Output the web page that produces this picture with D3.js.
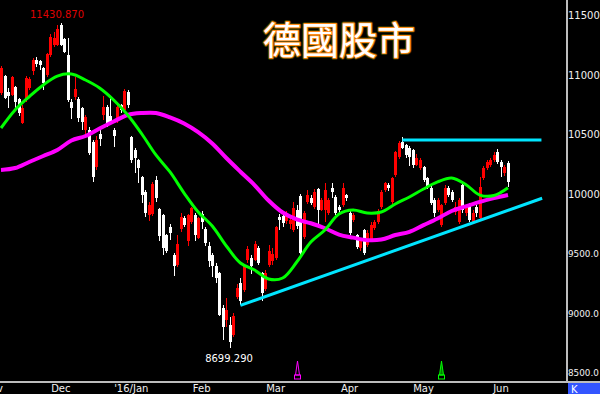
<!DOCTYPE html>
<html><head><meta charset="utf-8">
<script src="https://cdn.jsdelivr.net/npm/d3@7"></script>
<style>html,body{margin:0;padding:0;background:#000;overflow:hidden}</style>
</head><body><svg id="c" width="600" height="394"></svg>
<script>
// ---- data ----
const holidays = ["2015-12-24","2015-12-25","2015-12-31","2016-01-01","2016-03-25","2016-03-28"];
const open = [10845,10988,10850,10830,10895,10794,10592,10786,10890,11030,11120,11110,11055,10996,11164,11248,11248,11416,11300,11164,
10770,10810,10794,10718,10534,10534,10433,10223,10500,10660,10727,10650,10530,10610,10744,10702,10853,10475,10366,10282,
10140,10012,9820,9830,10110,9870,9819,9650,9720,9480,9400,9700,9794,9600,9760,9819,9630,9830,9700,9560,
9480,9390,9330,9040,8937,8895,8811,9130,9250,9190,9441,9460,9440,9540,9330,9200,9400,9430,9460,9800,
9810,9770,9740,9693,9860,9980,9635,9928,9962,9887,10040,9861,9860,9836,10046,9970,9886,9903,9987,9836,
9777,9651,9542,9693,9567,9609,9710,9760,9887,10029,10071,9928,10156,10307,10433,10408,10382,10366,10240,10214,
10223,10130,10046,9945,9861,9735,9920,10046,10013,9845,9760,10071,9836,9903,9760,9886,9794,10130,10214,10240,
10282,10350,10265,10172,10256];
const high = [11070,11000,10885,10990,10900,10800,10740,10990,10980,11140,11150,11125,11060,11180,11340,11357,11416,11430.87,11310,11307,
10790,10980,10810,10730,10660,10560,10450,10480,10540,10820,10740,10810,10550,10740,10750,10880,10870,10480,10380,10290,
10150,10030,9930,10100,10150,9880,9830,9660,9740,9500,9650,9840,9810,9830,9890,9840,9800,9850,9720,9590,
9500,9420,9340,9060,9120,8960,9000,9240,9290,9400,9560,9480,9600,9560,9340,9360,9570,9540,9730,9830,
9830,9850,9800,9930,9900,9995,9850,10030,9990,10040,10050,9960,10090,9960,10090,9985,9900,10088,10000,9850,
9840,9660,9630,9700,9690,9760,9780,9870,10030,10100,10090,10140,10360,10440,10474,10420,10400,10375,10330,10300,
10235,10140,10060,9960,9960,9915,10070,10060,10030,9930,9960,10090,9900,9920,9860,9900,10140,10230,10280,10300,
10345,10370,10280,10240,10276];
const low = [10830,10790,10720,10820,10700,10650,10580,10770,10870,11000,11060,11040,10870,10980,11150,11230,11240,11240,11180,10770,
10625,10786,10600,10534,10500,10320,10100,10200,10400,10620,10560,10590,10390,10590,10680,10690,10720,10260,10170,10090,
9920,9805,9770,9810,9930,9600,9480,9500,9610,9310,9380,9680,9720,9560,9740,9600,9620,9700,9560,9380,
9300,9250,8970,8770,8880,8699.29,8790,9110,9060,9170,9420,9320,9430,9400,9100,9180,9380,9400,9440,9690,
9720,9740,9700,9680,9700,9458,9620,9910,9900,9870,9740,9850,9760,9820,9960,9820,9840,9890,9940,9650,
9760,9530,9520,9480,9550,9590,9690,9740,9870,10010,10020,9910,10140,10290,10370,10300,10230,10215,10230,10200,
10100,10040,9900,9800,9845,9720,9905,9970,9930,9820,9740,9840,9810,9760,9750,9800,9770,10110,10200,10225,
10265,10250,10140,10150,10057];
const close = [11055,10803,10820,10975,10770,10677,10718,10971,10960,11120,11090,11080,10930,11172,11315,11307,11382,11248,11190,10786,
10720,10878,10634,10600,10640,10340,10139,10451,10460,10727,10590,10600,10480,10727,10700,10860,10743,10283,10300,10214,
9990,9836,9900,10080,9960,9640,9545,9521,9664,9391,9574,9800,9736,9819,9880,9650,9790,9757,9581,9434,
9393,9286,8979,8879,9021,8752,8967,9206,9100,9400,9530,9388,9573,9416,9167,9331,9513,9495,9717,9776,
9751,9824,9778,9880,9723,9498,9836,9987,9920,10013,9860,9945,10030,9945,10013,9836,9861,10046,9962,9668,
9819,9550,9609,9500,9668,9735,9760,9850,10013,10088,10046,10130,10349,10424,10382,10324,10306,10240,10300,10282,
10114,10055,9920,9836,9945,9903,10046,9987,9945,9886,9945,9861,9886,9777,9840,9836,10055,10214,10265,10282,
10324,10265,10223,10223,10097];
// moving averages read every 4th session
const maStep = 4;
const ma20 = [10550,10702,10813,10912,10987,11004,10954,10887,10786,10660,10500,10324,10181,10004,9845,9727,9559,9416,9357,9282,
9290,9424,9592,9693,9828,9861,9836,9845,9912,9971,10038,10097,10130,10076,9987,9983,10049];
const ma60 = [10198,10214,10265,10315,10366,10445,10483,10546,10605,10660,10676,10676,10639,10588,10515,10420,10298,10183,10071,9941,
9840,9782,9750,9708,9655,9629,9608,9613,9651,9678,9734,9790,9853,9892,9930,9961,9988];
const yTickValues = [11500,11000,10500,10000,9500,9000,8500];
const yTickLabels = ["11500","11000","10500","10000","9500.0","9000.0","8500.0"];
const monthLabels = ["Nov","Dec","'16/Jan","Feb","Mar","Apr","May","Jun"];
const titleText = "德國股市";
const highLabel = "11430.870";
const lowLabel = "8699.290";
// annotation lines: [session index, value]
const flatLine = [[114,10450],[153.5,10450]];
const trendLine = [[68,9060],[153.7,9960]];
const signalIdx = [84,125];

// ---- build ----
const fmt = d3.timeFormat("%Y-%m-%d");
const dates = d3.timeDay.range(new Date(2015,10,6), new Date(2016,5,4))
  .filter(d => d.getDay()%6 !== 0 && !holidays.includes(fmt(d)));
const n = dates.length;

const svg = d3.select("#c");
svg.append("rect").attr("width",600).attr("height",394).attr("fill","#000");

const x = d3.scaleLinear().domain([0, n-1]).range([1, 508]);
const y = d3.scaleLinear().domain([8500, 11500]).range([372, 15]);

svg.append("clipPath").attr("id","clip").append("rect").attr("x",0).attr("y",0).attr("width",565).attr("height",380);
const plot = svg.append("g").attr("clip-path","url(#clip)");

// title
const tg = svg.append("g").attr("font-family","'Noto Sans CJK TC','Noto Sans CJK SC',sans-serif")
  .attr("font-size",38).attr("text-anchor","middle");
[["#3a3a00",3.6],["#ff8c1a",1.8]].forEach(([c,w])=>{
  tg.append("text").attr("x",339).attr("y",37).attr("dominant-baseline","central")
    .attr("fill","none").attr("stroke",c).attr("stroke-width",w).attr("stroke-linejoin","round").text(titleText);
});
tg.append("text").attr("x",339).attr("y",37).attr("dominant-baseline","central")
  .attr("fill","#ffffff").text(titleText);

// candles
const data = dates.map((d,i)=>({i, o:open[i], h:high[i], l:low[i], c:close[i]}));
const col = d => d.c >= d.o ? "#ff0000" : "#ffffff";
const cg = plot.append("g").attr("shape-rendering","crispEdges");
cg.selectAll("line").data(data).join("line")
  .attr("x1", d=>Math.round(x(d.i))+0.5).attr("x2", d=>Math.round(x(d.i))+0.5)
  .attr("y1", d=>y(d.h)).attr("y2", d=>y(d.l)).attr("stroke", col).attr("stroke-width",1);
cg.selectAll("rect").data(data).join("rect")
  .attr("x", d=>Math.round(x(d.i))-1).attr("width",3)
  .attr("y", d=>y(Math.max(d.o,d.c)))
  .attr("height", d=>Math.max(1, Math.abs(y(d.o)-y(d.c))))
  .attr("fill", col);

// moving averages
const maLine = d3.line().x((v,k)=>x(k*maStep)).y(v=>y(v)).curve(d3.curveCatmullRom);
plot.append("path").attr("d", maLine(ma60)).attr("fill","none").attr("stroke","#ff00ff").attr("stroke-width",4);
plot.append("path").attr("d", maLine(ma20)).attr("fill","none").attr("stroke","#00ff00").attr("stroke-width",3);

// annotation lines
const segLine = d3.line().x(p=>x(p[0])).y(p=>y(p[1]));
plot.append("path").attr("d", segLine(flatLine)).attr("stroke","#00e5ff").attr("stroke-width",3).attr("fill","none");
plot.append("path").attr("d", segLine(trendLine)).attr("stroke","#00e5ff").attr("stroke-width",3).attr("fill","none");

// extreme labels
svg.append("text").attr("x",57).attr("y",18).attr("text-anchor","middle")
  .attr("font-family","'DejaVu Sans',sans-serif").attr("font-size",10).attr("fill","#e00000").text(highLabel);
svg.append("text").attr("x",229).attr("y",362).attr("text-anchor","middle")
  .attr("font-family","'DejaVu Sans',sans-serif").attr("font-size",10).attr("fill","#ffffff").text(lowLabel);

// signal markers
const sigColors = ["#ff00ff","#00ff00"], sigFill = ["none","#008000"];
signalIdx.forEach((si,k)=>{
  const cx = Math.round(x(si))+0.5;
  const gS = svg.append("g").attr("stroke",sigColors[k]).attr("stroke-width",1);
  gS.append("path").attr("d",`M${cx},361 L${cx+2},375 L${cx-2},375 Z`).attr("fill",sigFill[k]);
  gS.append("rect").attr("x",cx-3).attr("y",375).attr("width",6).attr("height",4).attr("fill","none");
});

// axes frame
svg.append("rect").attr("x",566).attr("y",0).attr("width",2).attr("height",382).attr("fill","#bdbdbd");
svg.append("rect").attr("x",0).attr("y",381).attr("width",600).attr("height",2).attr("fill","#bdbdbd");

// y labels (longer labels set a little smaller so they fit the margin)
svg.append("g").selectAll("text").data(yTickValues).join("text")
  .attr("x",568).attr("y",v=>y(v)+4)
  .attr("font-family","'DejaVu Sans',sans-serif").attr("fill","#f0f0f0")
  .attr("font-size",(v,k)=>yTickLabels[k].length > 5 ? 8.8 : 10)
  .text((v,k)=>yTickLabels[k]);

// month labels
const monthStarts = [];
dates.forEach((d,i)=>{ if(i===0 || d.getMonth()!==dates[i-1].getMonth()) monthStarts.push(i); });
const xg = svg.append("g").attr("font-family","'DejaVu Sans',sans-serif").attr("font-size",10).attr("fill","#f0f0f0");
xg.append("text").attr("x", x(0)+2).attr("y",392).attr("text-anchor","end").text(monthLabels[0]);
monthStarts.slice(1).forEach((i,k)=>{
  xg.append("text").attr("x", x(i)).attr("y",392).attr("text-anchor","middle").text(monthLabels[k+1]);
});

// corner box
svg.append("rect").attr("x",568).attr("y",383).attr("width",32).attr("height",11).attr("fill","#3355ff");
svg.append("text").attr("x",571).attr("y",393).attr("font-family","'DejaVu Sans',sans-serif").attr("font-size",10).attr("fill","#ffffff").text("K");
</script></body></html>
